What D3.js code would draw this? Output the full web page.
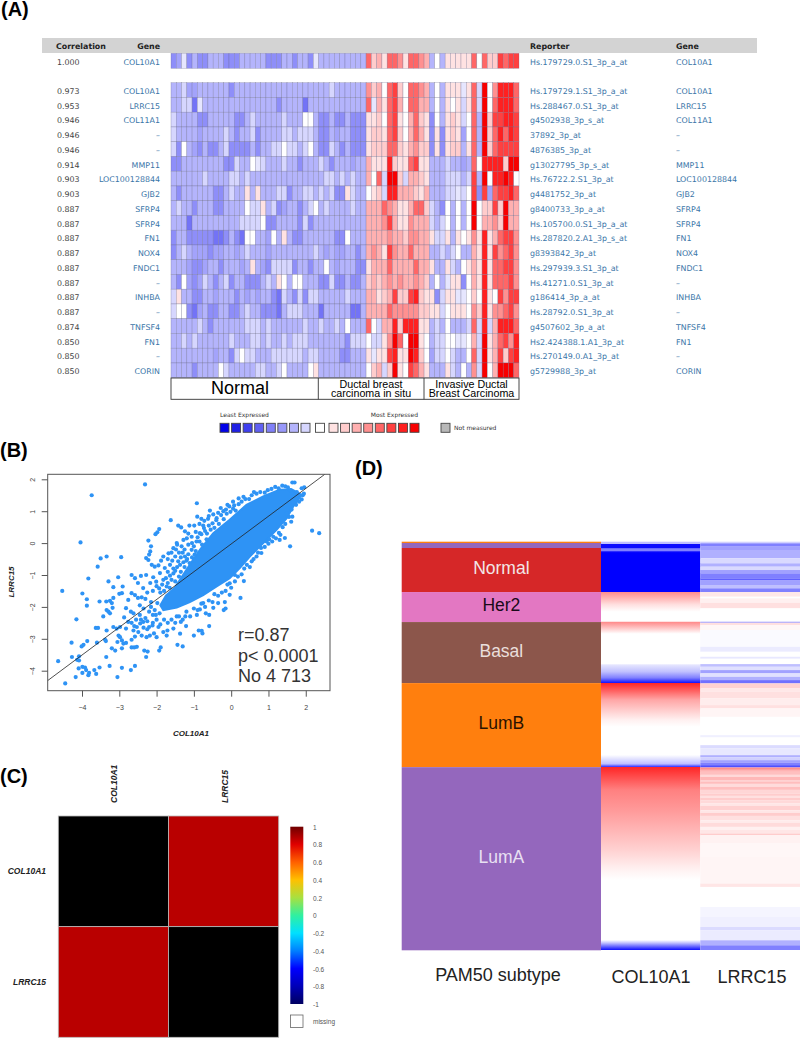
<!DOCTYPE html>
<html>
<head>
<meta charset="utf-8">
<script src="https://cdn.jsdelivr.net/npm/d3@7"></script>
<style>
body { margin: 0; background: #fff; }
text { font-family: "Liberation Sans", Arial, sans-serif; }
</style>
</head>
<body>
<script>
// panel A
let topGene = "COL10A1"
let topCorr = "1.000"
let topReporter = "Hs.179729.0.S1_3p_a_at"
let genes = ["COL10A1","LRRC15","COL11A1","–","–","MMP11","LOC100128844","GJB2","SFRP4","SFRP4","FN1","NOX4","FNDC1","–","INHBA","–","TNFSF4","FN1","–","CORIN"]
let corrs = ["0.973","0.953","0.946","0.946","0.946","0.914","0.903","0.903","0.887","0.887","0.887","0.887","0.887","0.887","0.887","0.887","0.874","0.850","0.850","0.850"]
let reporters = ["Hs.179729.1.S1_3p_a_at","Hs.288467.0.S1_3p_at","g4502938_3p_s_at","37892_3p_at","4876385_3p_at","g13027795_3p_s_at","Hs.76722.2.S1_3p_at","g4481752_3p_at","g8400733_3p_a_at","Hs.105700.0.S1_3p_a_at","Hs.287820.2.A1_3p_s_at","g8393842_3p_at","Hs.297939.3.S1_3p_at","Hs.41271.0.S1_3p_at","g186414_3p_a_at","Hs.28792.0.S1_3p_at","g4507602_3p_a_at","Hs2.424388.1.A1_3p_at","Hs.270149.0.A1_3p_at","g5729988_3p_at"]
// expression level per sample: letters = blue shades, 0 = white, 1..8 = red
let topRow = "edaeceeccc eeecccccee eccecceacc ccccccc 5231554155 43c0c11111 505226566"
let heatRows = [
"ccbddccccc cecccccccc cccccccccc bcccccc 4230562055 43c0c111a1 5b8047775",
"ccbbfacccc cccccccccc eccccfcccc ccccccc 5a31563055 33c0c101b1 5b8057775",
"bcccceeccc cceecbcccc cbccc00cee ceeceee 1120561035 21e0c121b0 5c8266776",
"bccccdcccc bceccbeccc cbbcbbbcee cdcceee 1221562035 31e1e121d0 5c8257576",
"be0cdeceec beeeececcb b0bbcb0cee bceceee 1222552134 22e1e122c1 5c8256666",
"eecccccccc eebcc0abcc cbccecccbc ecccdcc 3111721156 11cccbccdc 507777288",
"ccccccbccc cbbcbccccc cccccccccb bcbcbcc 305b882b33 21cccbbbcb 6c8077870",
"ceccccccee cbcc1c1ccc bbeccbbcbc bee1bcc 012b773332 13cccbbab0 6e6d56675",
"cbccecccee cccc0bb1cb edccecb0cb ccccbcc 3335431135 52bce0c0c0 802262833",
"cccfcccccc cccbbbb0ee ccccebeccc ccccccc 3334631143 33bcb0c0c0 803342833",
"ecceeeeeff ecef00ccd0 c1ceeccccc cee0ccc 3333433244 331bb1c101 417135664",
"ecbcdddedd ccdcbcccdc cccccccbcd cddccec 3431643353 33ccbcb0cc 317164564",
"cccdeedcce cccdc1cdeb bbbeccecc0 cdcccee 1333533335 331cc1bc01 317155664",
"ce0dedbcec becceeecbc 10c00cccee beeceec 2323434334 32c0ca11e0 317155564",
"b1cceeccdc ccecdcdcce fbcebebbcc cccbccc 3312362267 211eb11aa0 207106466",
"b00efdceec ceecbcceee fcbbbcccfc ccccffc 3333544444 2211b01110 427144564",
"cccccbcecc ccccbbbcbc cccccbccbc cbc0ccc 50b3372777 11cbc0cccb 5b7b37775",
"ccbcbccccc cbcccbbcbc cbcbbbcccc cccebbb 0bb1485088 10cbb00aa0 3b8135647",
"ccccccccdc ceb0bbcccb bbbbbcbbcc cceeccc 1a11671187 20dbb0bcc0 5b8136267",
"ccccecccc0 bcccccbbcc b0cccc01cc ccccccc 023b281065 31ccc1bc0c 4b8038885"
]
let letterLevels = {a:-0.6,b:-1,c:-2,d:-2.6,e:-3.4,f:-4.4}
let levels = [-8,-7,-6,-5,-4,-3,-2,-1,0,1,2,3,4,5,6,7,8]
let levelColors = ["#0000e8","#2020e4","#4040f0","#6060f2","#8080f8","#9898fa","#b4b4fc","#d6d6fe","#ffffff","#ffe2e2","#ffcccc","#ffb0b0","#ff9090","#ff6666","#ff4040","#ff2020","#f70000"]

// panel B, x and y of the points that can be told apart
let scatterPoints = [
[-2.31,1.84],[-3.74,1.5],[-4.04,0.02],[-3.5,-0.48],[-3.34,-0.42],[-3.58,-0.74],[-2.95,-0.44],[-3.83,-1.11],[-4.53,-1.5],[-3.99,-1.58],[-3.87,-1.76],[-3.87,-1.96],[-4.15,-2.39],[-4.28,-3.12],[-4.27,-3.57],[-4.64,-3.7],[-4.45,-4.4],[-4.17,-4.2],[-4.08,-3.55],[-4.13,-3.66],[-4.08,-3.68],[-4.09,-3.93],[-3.99,-3.88],[-3.92,-3.9],[-3.89,-3.98],[-3.99,-4.07],[-3.83,-4.14],[-3.81,-4.07],[-3.67,-3.98],[-3.62,-4.1],[-3.53,-3.9],[-3.26,-3.85],[-3.05,-4.2],[-2.93,-3.91],[-2.69,-3.98],[-2.58,-3.85],
[-4.01,-3.24],[-3.96,-3.19],[-3.86,-3.07],[-3.6,-3.12],[-3.38,-3.03],[-3.36,-3.07],[-3.35,-3.57],[-3.2,-3.3],[-3.11,-3.37],[-3.63,-2.66],[-3.57,-2.66],[-3.43,-2.3],[-3.53,-1.83],[-3.35,-1.83],[-3.29,-1.2],[-3.16,-1.38],[-3.03,-1.07],[-2.91,-1.36],[-3,-1.59],[-2.93,-1.57],[-3.16,-1.72],[-3.2,-1.88],[-3.25,-1.81],[-3.29,-2.15],[-3.25,-2.2],[-3.34,-2.1],[-3.18,-2.03],[-3.16,-2.63],[-3.07,-2.68],[-3.34,-2.74],[-2.98,-2.63],[-3.02,-2.9],[-2.93,-3.05],[-2.98,-2.95],[-3.05,-3.1],[-2.89,-3.15],[-2.82,-3.13],[-2.93,-3.3],[-2.67,-3.27],[-2.6,-3.27],[-2.53,-3.25],[-2.33,-3.37],[-2.24,-3.4],[-2.28,-3.57],[-1.93,-3.37],[-1.89,-3.27],[-1.44,-3.19],[-1.3,-3.24],
[-2.67,-1],[-2.58,-1.1],[-2.42,-1.03],[-2.28,-1],[-2.5,-1.25],[-2.36,-1.41],[-2.67,-1.57],[-2.58,-1.63],[-2.76,-1.78],[-2.5,-1.72],[-2.82,-2.04],[-2.69,-2.15],[-2.62,-2.2],[-2.87,-2.33],[-2.76,-2.47],[-2.67,-2.5],[-2.82,-2.68],[-2.62,-2.74],[-2.53,-2.63],[-2.44,-2.52],[-2.36,-2.47],[-2.49,-2.79],[-2.4,-2.9],[-2.27,-2.95],[-2.58,-2.93],[-2.67,-3.03],[-2.18,-2.9],[-2.07,-2.83],[-2,-2.95],[-2.2,-2.63],[-2.11,-2.58],[-1.95,-2.63],[-1.82,-2.79],[-1.73,-2.9],[-1.71,-2.74],[-1.55,-2.68],[-1.37,-2.84],[-1,-2.9],[-0.87,-2.74],[-0.77,-2.83],[-0.79,-2.75],[-0.59,-2.6],[-1.35,-2.47],[-1.21,-2.6],[-1.46,-2.3],[-1.23,-2.3],[-0.92,-2.25],[-0.68,-2.2],[-0.59,-2.25],[-0.2,-2.1],[-0.15,-2.05],[0.25,-1.72],[-0.04,-1.62],[-0.17,-1.85],[-0.35,-1.88],[-0.48,-2.03],[-0.84,-2.08],[-0.75,-1.88],
[-2.22,0.08],[-2.15,-0.1],[-2.17,-0.26],[-2.2,-0.36],[-2.28,-0.47],[-2.22,-0.53],[-2.13,-0.68],[-2.05,-0.74],[-1.98,0.34],[-1.93,0.44],[-2.03,0.28],[-1.62,0.72],[-1.42,0.55],[-1.34,0.49],[-1.24,0.37],[-1.12,0.55],[-0.99,0.55],[-0.92,1.25],[-0.57,1.02],[-0.91,0.83],[-0.8,0.76],[-0.48,0.9],[-0.62,0.76],[-0.39,0.78],[-0.21,1],[-0.05,1.15],[0.05,1.3],[-0.14,1.05],[0.33,1.45],[0.61,1.6],[0.9,1.58],[1.37,1.8],[1.64,1.9],[1.7,1.9],[1.96,1.75],[1.89,1.72],[1.58,1.66],[1.76,1.6],
[1.92,1.5],[1.89,1.37],[1.66,1.27],[1.64,0.83],[1.61,0.67],[1.49,0.93],[2.17,0.39],[2.36,0.31],[1.32,0.26],[1.44,0.16],[1.58,-0.1],[1.3,0.1],[1.13,0.2],[0.95,0.05],[0.81,-0.31],[0.68,-0.42],[0.55,-0.57],[0.34,-1.19],[0.1,-1],[-0.04,-1.26],
[-1.82,-0.42],[-1.68,-0.32],[-1.55,-0.16],[-1.46,0],[-1.28,0.1],[-1.19,0.15],[-1.33,-0.1],[-1.06,0.2],[-1.64,-0.68],[-1.78,-0.78],[-1.91,-0.94],[-2.01,-1.21],[-1.93,-1.42],[-2.17,-1.25],[-2.09,-1.07],[-1.64,-1.02],[-1.5,-0.87],[-1.37,-0.68],[-1.24,-0.42],[-1.06,-0.21],[-0.93,0.05],[-0.84,0.31],[-0.73,0.47],[-1.82,-1.15],[-1.73,-1.36],[-1.5,-0.42],[-1.42,-0.57],[-1.11,-0.63],[-0.98,-0.36],[-1.15,-0.05],
[-2.1,-1.5],[-2,-1.35],[-1.9,-1.55],[-1.85,-1.3],[-1.8,-1.5],[-1.75,-1.1],[-1.7,-1.25],[-1.65,-1.4],[-1.6,-1.15],[-1.55,-0.95],[-1.5,-1.2],[-1.45,-0.75],[-1.4,-1.05],[-1.35,-0.9],[-1.3,-1.15],[-1.28,-0.6],[-1.25,-0.75],[-1.2,-0.55],[-1.15,-0.35],[-1.1,-0.75],[-1.05,-0.45],[-1,-0.1],[-1,-0.55],[-0.95,-0.25],[-0.9,0.18],[-0.85,0.05],[-0.8,0.28],[-0.78,-0.05],[-0.7,0.38],[-0.66,0.12],[-0.6,0.55],[-0.55,0.42],[-0.5,0.62],[-0.45,0.48],[-0.4,0.72],[-0.33,0.6],[-0.27,0.88],[-0.2,0.75],[-0.12,0.92],[-0.02,0.98],[0.05,1.08],[0.12,1.02],[0.2,1.22],[0.28,1.3],[0.38,1.38],[0.48,1.38],[0.55,1.5],[0.68,1.55],[0.78,1.6],[0.98,1.66],[1.08,1.7],[1.18,1.76],[1.27,1.72],[1.45,1.78],[1.52,1.75],
[-2.25,-2.45],[-2.1,-2.5],[-2,-2.4],[-1.9,-2.55],[-1.8,-2.4],[-1.7,-2.5],[-1.6,-2.4],[-1.5,-2.5],[-1.4,-2.3],[-1.3,-2.4],[-1.2,-2.15],[-1.1,-2.3],[-1,-2.05],[-0.9,-2.1],[-0.8,-1.9],[-0.7,-2],[-0.6,-1.8],[-0.5,-1.85],[-0.45,-1.6],[-0.35,-1.65],[-0.25,-1.55],[-0.15,-1.5],[-0.1,-1.3],[0,-1.4],[0.1,-1.2],[0.18,-1.05],[0.28,-0.98],[0.35,-0.8],[0.42,-0.68],[0.5,-0.75],[0.6,-0.5],[0.72,-0.3],[0.8,-0.15],[0.9,-0.12],[1,-0.02],[1.02,0.12],[1.1,0.05],[1.2,0.15],[1.28,0.32],[1.38,0.5],[1.45,0.6],[1.55,0.82],[1.62,1.05],[1.74,1.2],[1.82,1.3],[1.95,1.55],
[-2.45,-2.25],[-2.55,-2.4],[-2.35,-2.05],[-2.42,-2.4],[-2.3,-2.35],[-2.45,-1.95],[-2.6,-2.6],[-2.35,-2.65],[-2.25,-2.7],[-2.1,-2.25],[-2.3,-1.75],[-2.15,-1.85],[-2.25,-1.55],[-2.4,-1.7],[-2.2,-2.15],[-2.05,-2.1],[-2.15,-2],[-1.98,-1.88],[-2.02,-2.25],[-1.92,-2.2],
[-1.95,-0.7],[-1.88,-0.55],[-1.7,-0.5],[-1.6,-0.3],[-1.58,-0.55],[-1.48,-0.2],[-1.4,-0.3],[-1.3,-0.3],[-1.25,-0.2],[-1.18,-0.5],[-1.35,-0.45],[-1.55,-0.8],[-1.7,-0.9],[-1.45,-0.05],[-1.15,0.3],[-1.05,0],[-0.95,0.35],[-0.85,0.6],[-0.72,0.7],[-0.6,0.85],[-0.28,1.1],[-0.35,0.95],[-0.1,1.2],[0.08,1.18],[0.2,1.4],[-0.75,0.55],[-0.65,0.3]
]
// outline of the solid part of the cloud, single points cannot be read there
let scatterCore = [[-1.9,-1.95],[-1.75,-1.65],[-1.5,-1.38],[-1.2,-0.84],[-0.84,-0.21],[-0.48,0.31],[-0.04,0.73],[0.41,1.2],[0.86,1.46],[1.3,1.67],[1.62,1.69],[1.89,1.51],[1.66,1.14],[1.49,0.78],[1.21,0.41],[0.86,0],[0.5,-0.42],[0.23,-0.78],[-0.04,-1.1],[-0.39,-1.36],[-0.75,-1.63],[-1.11,-1.85],[-1.46,-2.02],[-1.82,-2.1]]
let fitLine = [[-4.92,-4.31],[2.51,2.157]]
let scatterTicksX = [-4,-3,-2,-1,0,1,2]
let scatterTicksY = [-4,-3,-2,-1,0,1,2]
let statLines = ["r=0.87","p< 0.0001","No 4 713"]

// panel C
let matrixGenes = ["COL10A1","LRRC15"]
let matrixValues = [[null,0.87],[0.87,null]]
let barTicks = [1,0.8,0.6,0.4,0.2,0,-0.2,-0.4,-0.6,-0.8,-1]
let jetValues = [-1,-0.8,-0.6,-0.4,-0.2,0,0.2,0.4,0.6,0.8,1]
let jetColors = ["#000060","#0000b8","#0000ff","#0080ff","#00e0ff","#30f0a0","#a8e040","#ffc000","#ff6000","#e00000","#700000"]

// panel D, heights are in sample ranks out of 408
let subtypes = ["","","Normal","Her2","Basal","LumB","LumA"]
let subtypeCounts = [1.3,5,44,30,61,84,183]
let subtypeColors = ["#ff7f0e","#9467bd","#d62728","#e377c2","#8c564b","#ff7f0e","#9467bd"]
let subtypeTextColors = ["","","#f2e6e6","#1a0a1a","#eadfdc","#2a1200","#e8e0f2"]
let colRanks = [0,2,2.5,6,7,9,10,11,50.3,50.3,63,70,79.5,80.5,92,122,123,130,136,141.3,141.3,158,178,185,213,222,225.3,225.3,248,268,308,328,338,398,401,406,408]
let colValues = [-0.25,-0.25,-0.95,-0.95,-0.5,-0.5,-0.9,-1,-1,0.45,0.12,0,0,0.45,0,0,-0.1,-0.25,-0.5,-0.95,0.85,0.35,0.06,0,0,-0.25,-0.85,0.85,0.5,0.4,0.18,0.05,0,0,-0.25,-0.75,-0.95]
let lrrcRanks = [0,1.6,5,8.3,16.6,21.6,25,28.3,31.6,36.6,38.3,43.3,46.6,50.3,55,56.6,61,66.6,80,81,83.3,88.3,105,110,115,117,122.3,125,128.3,131.6,135,138.3,141.6,146.6,150,156.6,163.3,166.6,175,193.3,195.6,203.3,206.6,213.3,215.6,218.3,221,223.3,225.6,228,230,233,235,238.3,240,242,245,248,251.6,254,256,258.3,261.6,264,268.3,271,274,278.3,281,285,288,291.6,293.3,301.6,315,341.6,345,365,375,385,388.3,398.3,403.3]
let lrrcValues = [-0.18,-0.5,-0.37,-0.31,-0.15,-0.31,-0.15,-0.37,-0.5,-0.62,-0.37,-0.25,-0.5,0.09,0,0.06,0.12,0,-0.45,0.12,0.03,-0.02,-0.08,0,-0.09,0,-0.25,-0.12,-0.37,-0.12,-0.31,-0.56,0.18,0.09,0.12,0.07,0.12,0.04,0,-0.06,0,-0.14,-0.09,-0.31,-0.18,-0.37,-0.5,-0.69,0.44,0.3,0.25,0.15,0.28,0.2,0.26,0.14,0.25,0.16,0.2,0.12,0.2,0.15,0.1,0.18,0.1,0.2,0.12,0.08,0.14,0.06,0.1,0.2,0.05,0.03,0.04,0.1,0,-0.04,-0.06,-0.14,-0.08,-0.31,-0.5]
let columnNames = ["PAM50 subtype","COL10A1","LRRC15"]

let w = 800
let h = 1038
let svg = d3.select("body").append("svg").attr("width", w).attr("height", h).style("display","block")

// panel letters
svg.selectAll("text.letter")
    .data([["(A)",1,16],["(B)",0,457],["(C)",0,783],["(D)",355,475]])
    .enter().append("text")
    .attr("x", d=>d[1]).attr("y", d=>d[2])
    .attr("font-size", 20).attr("font-weight","bold").text(d=>d[0])

// ---- A ----
let levelColor = d3.scaleLinear().domain(levels).range(levelColors)
let parseRow = s=>s.replace(/ /g,"").split("").map(c=>/[0-8]/.test(c)?+c:letterLevels[c])
let nCols = parseRow(topRow).length
let xCell = d3.scaleBand().domain(d3.range(nCols)).range([171,519])
let yRow = d3.scaleBand().domain(d3.range(genes.length)).range([82.7,377.7])
let linkColor = "#3a75a8"
let listFont = "'DejaVu Sans', sans-serif"

svg.append("rect").attr("x",42).attr("y",38).attr("width",715).attr("height",15).attr("fill","#d3d3d3")
let drawRow = (values,y,height)=>{
    svg.append("g").selectAll("rect").data(values).enter().append("rect")
        .attr("x",(d,i)=>xCell(i)).attr("y",y)
        .attr("width",xCell.bandwidth()).attr("height",height)
        .attr("fill",d=>levelColor(d))
        .attr("stroke","#6c6c8c").attr("stroke-width",0.5).attr("stroke-opacity",0.55)
}
drawRow(parseRow(topRow),53.3,15)
heatRows.forEach((r,i)=>drawRow(parseRow(r),yRow(i),yRow.bandwidth()))

let listText = (x,anchor,color,txt,y,bold)=>svg.append("text")
    .attr("x",x).attr("y",y).attr("text-anchor",anchor)
    .attr("fill",color).attr("font-size",7.9).style("font-family",listFont)
    .attr("font-weight",bold?"bold":"normal").text(txt)
listText(56,"start","#222","Correlation",49,true)
listText(160,"end","#222","Gene",49,true)
listText(530,"start","#222","Reporter",49,true)
listText(676,"start","#222","Gene",49,true)
let writeRow = (y,corr,gene,rep)=>{
    listText(57,"start","#444",corr,y)
    listText(160,"end",linkColor,gene,y)
    listText(530,"start",linkColor,rep,y)
    listText(676,"start",linkColor,gene,y)
}
writeRow(65.4,topCorr,topGene,topReporter)
genes.forEach((g,i)=>writeRow(yRow(i)+yRow.bandwidth()/2+3.8,corrs[i],g,reporters[i]))

// group labels below the heatmap
svg.append("rect").attr("x",171).attr("y",378).attr("width",348).attr("height",21.3).attr("fill","#fff").attr("stroke","#333").attr("stroke-width",0.9)
svg.selectAll("line.grp").data([318.3,424]).enter().append("line")
    .attr("x1",d=>d).attr("x2",d=>d).attr("y1",378).attr("y2",399.3).attr("stroke","#333").attr("stroke-width",0.9)
svg.append("text").attr("x",240).attr("y",394).attr("text-anchor","middle").attr("font-size",18).text("Normal")
svg.selectAll("text.grp")
    .data([["Ductal breast",371,387.5],["carcinoma in situ",371,397],["Invasive Ductal",471.5,387.5],["Breast Carcinoma",471.5,397]])
    .enter().append("text").attr("x",d=>d[1]).attr("y",d=>d[2]).attr("text-anchor","middle").attr("font-size",10.7).text(d=>d[0])

// legend
let legendBlue = d3.scaleLinear().domain([-8,-1]).range([220,301])
let legendRed = d3.scaleLinear().domain([1,8]).range([329,410])
let legendPos = d=>d<0?legendBlue(d):d==0?315.5:legendRed(d)
svg.append("g").selectAll("rect").data(levels).enter().append("rect")
    .attr("x",d=>legendPos(d)).attr("y",423.3).attr("width",9).attr("height",9)
    .attr("fill",d=>levelColor(d)).attr("stroke","#444").attr("stroke-width",0.9)
svg.append("rect").attr("x",441).attr("y",423.3).attr("width",9).attr("height",9).attr("fill","#b8b8b8").attr("stroke","#444").attr("stroke-width",0.9)
let smallText = (x,y,anchor,t)=>svg.append("text").attr("x",x).attr("y",y).attr("text-anchor",anchor)
    .attr("font-size",6).attr("fill","#333").style("font-family",listFont).text(t)
smallText(220,417,"start","Least Expressed")
smallText(418,417,"end","Most Expressed")
smallText(454,430,"start","Not measured")

// ---- B ----
let xB = d3.scaleLinear().domain([-4.92,2.65]).range([47.7,330])
let yB = d3.scaleLinear().domain([-4.627,2.157]).range([690.7,474.3])
let lineB = d3.line().x(d=>xB(d[0])).y(d=>yB(d[1]))
svg.append("path").attr("d",lineB(scatterCore)+"Z").attr("fill","#2e93f5").attr("stroke","#2e93f5").attr("stroke-width",2)
svg.append("g").selectAll("circle").data(scatterPoints).enter().append("circle")
    .attr("cx",d=>xB(d[0])).attr("cy",d=>yB(d[1])).attr("r",2.1).attr("fill","#2e93f5")
svg.append("path").attr("d",lineB(fitLine)).attr("stroke","#222").attr("stroke-width",0.8).attr("fill","none")
svg.append("rect").attr("x",47.7).attr("y",474.3).attr("width",282.3).attr("height",216.4).attr("fill","none").attr("stroke","#555").attr("stroke-width",1)

let axisXB = d3.axisBottom(xB).tickValues(scatterTicksX).tickSize(6).tickPadding(8).tickFormat(d3.format("d"))
let axisYB = d3.axisLeft(yB).tickValues(scatterTicksY).tickSize(6).tickFormat(d3.format("d"))
let gx = svg.append("g").attr("transform","translate(0,690.7)").call(axisXB)
let gy = svg.append("g").attr("transform","translate(47.7,0)").call(axisYB)
;[gx,gy].forEach(g=>{
    g.select(".domain").remove()
    g.selectAll("line").attr("stroke","#555")
    g.selectAll("text").attr("fill","#444").attr("font-size",7).style("font-family","'Liberation Sans'")
})
gy.selectAll("text").attr("x",-15.7).attr("dy",2.5).attr("text-anchor","middle").attr("transform","rotate(-90,-15.7,0)")
svg.append("text").attr("x",191).attr("y",735.5).attr("text-anchor","middle").attr("font-size",8).attr("font-weight","bold").attr("font-style","italic").attr("fill","#222").text("COL10A1")
svg.append("text").attr("transform","translate(14,582) rotate(-90)").attr("text-anchor","middle").attr("font-size",8).attr("font-weight","bold").attr("font-style","italic").attr("fill","#222").text("LRRC15")
svg.selectAll("text.stat").data(statLines).enter().append("text")
    .attr("x",238).attr("y",(d,i)=>641+i*20.6).attr("font-size",18).attr("fill","#333").text(d=>d)

// ---- C ----
let xC = d3.scaleBand().domain(matrixGenes).range([58.3,278.7])
let yC = d3.scaleBand().domain(matrixGenes).range([816,1037.3])
let jet = d3.scaleLinear().domain(jetValues).range(jetColors)
matrixValues.forEach((row,i)=>row.forEach((v,j)=>{
    svg.append("rect").attr("x",xC(matrixGenes[j])).attr("y",yC(matrixGenes[i]))
        .attr("width",xC.bandwidth()).attr("height",yC.bandwidth())
        .attr("fill",v==null?"#000":jet(v)).attr("stroke","#bbb").attr("stroke-width",0.8)
}))
matrixGenes.forEach(g=>{
    svg.append("text").attr("transform","translate("+(xC(g)+xC.bandwidth()/2+4)+",803) rotate(-90)")
        .attr("font-size",8.5).attr("font-weight","bold").attr("font-style","italic").attr("fill","#222").text(g)
    svg.append("text").attr("x",46).attr("y",yC(g)+yC.bandwidth()/2+3)
        .attr("text-anchor","end").attr("font-size",8.5).attr("font-weight","bold").attr("font-style","italic").attr("fill","#222").text(g)
})
let yBar = d3.scaleLinear().domain([-1,1]).range([1004,826.7])
let barGrad = svg.append("defs").append("linearGradient").attr("id","jetbar").attr("x1",0).attr("x2",0).attr("y1",1).attr("y2",0)
barGrad.selectAll("stop").data(jetValues).enter().append("stop")
    .attr("offset",(d,i)=>i/(jetValues.length-1)).attr("stop-color",d=>jet(d))
svg.append("rect").attr("x",290.3).attr("y",yBar(1)).attr("width",13).attr("height",yBar(-1)-yBar(1)).attr("fill","url(#jetbar)")
svg.selectAll("text.bar").data(barTicks).enter().append("text")
    .attr("x",313).attr("y",d=>yBar(d)+3).attr("font-size",6.5).attr("fill","#555").text(d=>d)
svg.append("rect").attr("x",290.5).attr("y",1015).attr("width",12.5).attr("height",12.5).attr("fill","#fff").attr("stroke","#666").attr("stroke-width",0.8)
svg.append("text").attr("x",313).attr("y",1024).attr("font-size",6.5).attr("fill","#555").text("missing")

// ---- D ----
let yD = d3.scaleLinear().domain([0,408]).range([541.7,950])
let valueColor = d3.scaleLinear().domain([-1,0,1]).range(["#0000ff","#ffffff","#ff0000"])
let xD = [401.7,601,700.3,800]
let ends = Array.from(d3.cumsum(subtypeCounts))
svg.append("g").selectAll("rect").data(subtypes).enter().append("rect")
    .attr("x",xD[0]).attr("width",xD[1]-xD[0])
    .attr("y",(d,i)=>yD(i?ends[i-1]:0)).attr("height",(d,i)=>yD(ends[i])-yD(i?ends[i-1]:0))
    .attr("fill",(d,i)=>subtypeColors[i])
svg.selectAll("text.sub").data(subtypes).enter().filter(d=>d).append("text")
    .attr("x",(xD[0]+xD[1])/2).attr("text-anchor","middle").attr("font-size",17.5)
    .attr("y",d=>{let i=subtypes.indexOf(d);return (yD(i?ends[i-1]:0)+yD(ends[i]))/2+4})
    .attr("fill",d=>subtypeTextColors[subtypes.indexOf(d)]).text(d=>d)

let colGrad = svg.select("defs").append("linearGradient").attr("id","colgrad")
    .attr("x1",0).attr("x2",0).attr("y1",0).attr("y2",1)
colGrad.selectAll("stop").data(colRanks).enter().append("stop")
    .attr("offset",d=>d/408).attr("stop-color",(d,i)=>valueColor(colValues[i]))
svg.append("rect").attr("x",xD[1]).attr("y",yD(0)).attr("width",xD[2]-xD[1]).attr("height",yD(408)-yD(0)).attr("fill","url(#colgrad)")
svg.append("g").selectAll("rect").data(lrrcRanks).enter().append("rect")
    .attr("x",xD[2]).attr("width",xD[3]-xD[2])
    .attr("y",d=>yD(d))
    .attr("height",(d,i)=>yD(i<lrrcRanks.length-1?lrrcRanks[i+1]:408)-yD(d))
    .attr("fill",(d,i)=>valueColor(lrrcValues[i]))
svg.selectAll("text.col").data(columnNames).enter().append("text")
    .attr("x",(d,i)=>[498,651,752][i]).attr("y",(d,i)=>[981,983,983][i]).attr("text-anchor","middle")
    .attr("font-size",18).attr("fill","#222").text(d=>d)
</script>
</body>
</html>
